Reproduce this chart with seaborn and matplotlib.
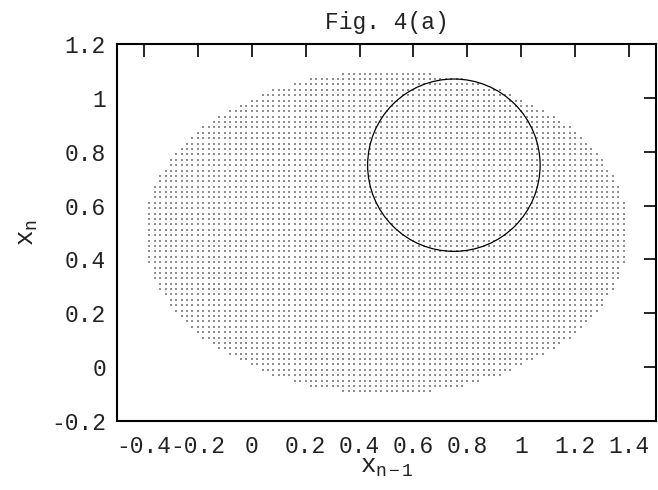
import numpy as np
import pandas as pd
import matplotlib
matplotlib.use("Agg")
import matplotlib.pyplot as plt
from matplotlib.patches import Circle
import seaborn as sns

# ---- data ----
title = "Fig. 4(a)"
x_tick_values = [-0.4, -0.2, 0, 0.2, 0.4, 0.6, 0.8, 1, 1.2, 1.4]
x_tick_labels = ["-0.4", "-0.2", "0", "0.2", "0.4", "0.6", "0.8", "1", "1.2", "1.4"]
y_tick_values = [-0.2, 0, 0.2, 0.4, 0.6, 0.8, 1, 1.2]
y_tick_labels = ["-0.2", "0", "0.2", "0.4", "0.6", "0.8", "1", "1.2"]
x_limits = [-0.5, 1.5]
y_limits = [-0.2, 1.2]

# dotted region: elliptical set sampled on a regular grid
region_center = [0.5, 0.5]
region_semi_axes = [0.9, 0.6]
grid_x_start = -0.40
grid_y_start = -0.09
grid_step_x = 0.02
grid_step_y = 0.02

# circle
circle_center = [0.75, 0.75]
circle_radius = 0.32

# ---- build dot table ----
gx = np.arange(grid_x_start, region_center[0] + region_semi_axes[0] + 1e-9, grid_step_x)
gy = np.arange(grid_y_start, region_center[1] + region_semi_axes[1] + 1e-9, grid_step_y)
GX, GY = np.meshgrid(gx, gy)
inside = ((GX - region_center[0]) / region_semi_axes[0]) ** 2 + ((GY - region_center[1]) / region_semi_axes[1]) ** 2 <= 1.0
dots = pd.DataFrame({"x": GX[inside], "y": GY[inside]})

sns.set_theme(style="white")
plt.rcParams["font.family"] = ["Liberation Mono", "DejaVu Sans Mono"]
plt.rcParams["mathtext.fontset"] = "custom"
plt.rcParams["mathtext.rm"] = "Liberation Mono"
plt.rcParams["mathtext.it"] = "Liberation Mono"

fig = plt.figure(figsize=(6.58, 4.90), dpi=100)
ax = fig.add_axes([117 / 658, 69 / 490, 539 / 658, 377 / 490])

sns.scatterplot(data=dots, x="x", y="y", ax=ax, marker="s", s=0.7,
                color="#909090", linewidth=0, legend=False)
ax.add_patch(Circle(circle_center, circle_radius, fill=False, edgecolor="black", linewidth=0.9))

ax.set_xlim(x_limits)
ax.set_ylim(y_limits)
ax.set_xticks(x_tick_values)
ax.set_xticklabels(x_tick_labels)
ax.set_yticks(y_tick_values)
ax.set_yticklabels(y_tick_labels)

fs = 16.5
text_color = "#222222"
ax.tick_params(axis="both", which="major", direction="in", length=9, width=1.2,
               top=True, right=True, labelsize=fs, color="black",
               labelcolor=text_color, pad=8)
ax.tick_params(axis="x", pad=10)
for sp in ax.spines.values():
    sp.set_visible(True)
    sp.set_linewidth(1.5)
    sp.set_color("black")

ax.set_xlabel(r"$\mathrm{x_{n-1}}$", fontsize=fs + 2, labelpad=-2, color=text_color)
ax.set_ylabel(r"$\mathrm{x_n}$", fontsize=fs + 2, labelpad=8, color=text_color)
ax.set_title(title, fontsize=fs, pad=11, color=text_color)

fig.savefig("out.png", dpi=100)
